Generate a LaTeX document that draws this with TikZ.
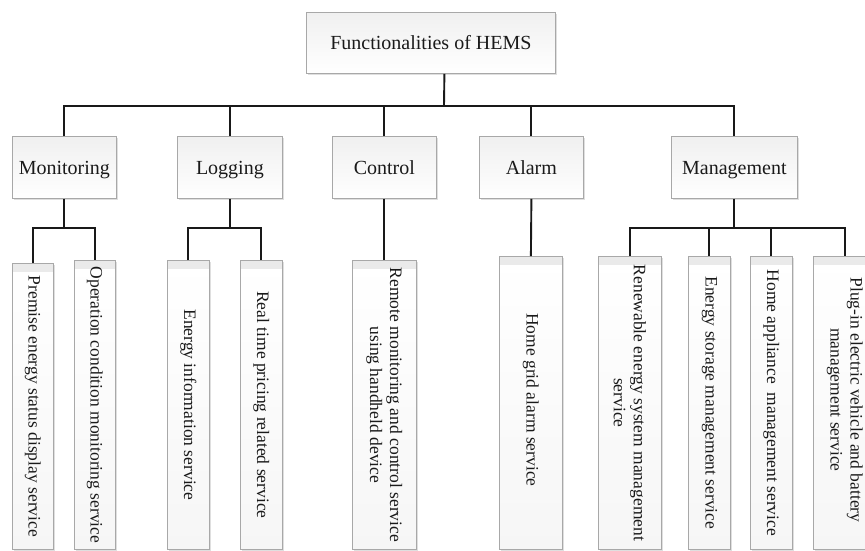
\documentclass[tikz,border=0pt]{standalone}
\usepackage{fontspec}
\setmainfont{Liberation Serif}
\usetikzlibrary{shadows,calc}
\definecolor{boxline}{HTML}{A8A8A8}
\definecolor{txt}{HTML}{1A1A1A}
\definecolor{strip}{HTML}{EAEAEA}
\begin{document}
\begin{tikzpicture}[x=1pt,y=-1pt,
  shade/.style={drop shadow={shadow xshift=1.3pt, shadow yshift=-1.3pt, opacity=0.25, fill=gray}},
  hbox/.style={draw=boxline, line width=0.8pt, top color=gray!12, bottom color=white, shade,
    inner sep=0pt, anchor=north west, text=txt, font=\fontsize{20}{24}\selectfont,
    text height=16pt, text depth=2pt},
  leaf/.style={draw=boxline, line width=0.8pt, top color=white, bottom color=gray!7, shade,
    inner sep=0pt, anchor=north west,
    path picture={\fill[strip] (path picture bounding box.north west) rectangle ([yshift=-9pt]path picture bounding box.north east);}},
  leaftext/.style={rotate=-90, align=center, inner sep=0pt, text=txt, font=\fontsize{17.5}{20}\selectfont},
  conn/.style={line width=1.9pt, draw=black!90}]
\useasboundingbox (0,0) rectangle (865,550);
\clip (0,0) rectangle (865,550);

% top
\node[hbox, minimum width=249pt, minimum height=61pt] (top) at (306,12) {Functionalities of HEMS};

% level 2
\node[hbox, minimum width=104pt, minimum height=62pt] (mon) at (12,136) {Monitoring};
\node[hbox, minimum width=105pt, minimum height=62pt] (log) at (177,136) {Logging};
\node[hbox, minimum width=104pt, minimum height=62pt] (ctl) at (332,136) {Control};
\node[hbox, minimum width=104pt, minimum height=62pt] (alm) at (479,136) {Alarm};
\node[hbox, minimum width=126pt, minimum height=62pt] (mgt) at (671,136) {Management};

% leaves
\node[leaf, minimum width=41pt, minimum height=286pt] (pre) at (12,263) {};
\node[leaf, minimum width=41pt, minimum height=289pt] (opr) at (74,260) {};
\node[leaf, minimum width=42pt, minimum height=289pt] (eni) at (167,260) {};
\node[leaf, minimum width=42pt, minimum height=289pt] (rtp) at (240,260) {};
\node[leaf, minimum width=64pt, minimum height=289pt] (rem) at (352,260) {};
\node[leaf, minimum width=63pt, minimum height=293pt] (hga) at (499,256) {};
\node[leaf, minimum width=63pt, minimum height=293pt] (ren) at (598,256) {};
\node[leaf, minimum width=42pt, minimum height=293pt] (sto) at (688,256) {};
\node[leaf, minimum width=42pt, minimum height=293pt] (app) at (750,256) {};
\node[leaf, minimum width=63pt, minimum height=293pt] (plg) at (813,256) {};

\node[leaftext] (preT) at (pre.center) {Premise energy status display service};
\node[leaftext] (oprT) at (opr.center) {Operation condition monitoring service};
\node[leaftext] (eniT) at (eni.center) {Energy information service};
\node[leaftext] (rtpT) at (rtp.center) {Real time pricing related service};
\node[leaftext] (remT) at (rem.center) {Remote monitoring and control service\\using handheld device};
\node[leaftext] (hgaT) at ([yshift=3pt]hga.center) {Home grid alarm service};
\node[leaftext] (renT) at (ren.center) {Renewable energy system management\\service};
\node[leaftext] (stoT) at (sto.center) {Energy storage management service};
\node[leaftext] (appT) at (app.center) {Home appliance\ \ management service};
\node[leaftext] (plgT) at ([yshift=3pt]plg.center) {Plug-in electric vehicle and battery\\management service};

% buses
\coordinate (bus) at (444,106);
\coordinate (sub) at (0,228);

\draw[conn] ([xshift=13.5pt]top.south) -- (bus);
\draw[conn] (mon.north) -- (mon.north |- bus) -- (mgt.north |- bus) -- (mgt.north);
\draw[conn] (log.north) -- (log.north |- bus);
\draw[conn] (ctl.north) -- (ctl.north |- bus);
\draw[conn] (alm.north) -- (alm.north |- bus);

\draw[conn] (mon.south) -- (mon.south |- sub);
\draw[conn] (pre.north) |- (opr.north |- sub) -- (opr.north);
\draw[conn] (log.south) -- (log.south |- sub);
\draw[conn] (eni.north) |- (rtp.north |- sub) -- (rtp.north);
\draw[conn] (ctl.south) -- (rem.north);
\draw[conn] (alm.south) -- (hga.north);
\draw[conn] (mgt.south) -- (mgt.south |- sub);
\draw[conn] (ren.north) |- (plg.north |- sub) -- (plg.north);
\draw[conn] (sto.north) -- (sto.north |- sub);
\draw[conn] (app.north) -- (app.north |- sub);
\end{tikzpicture}
\end{document}
